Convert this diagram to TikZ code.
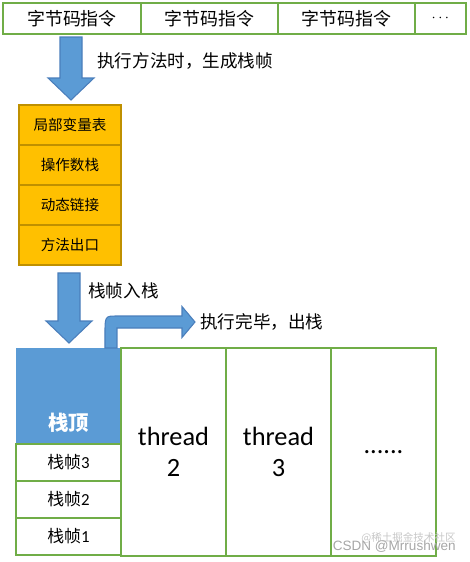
\documentclass[tikz,border=0pt]{standalone}
\usepackage{fontspec}
\setmainfont{Carlito}
\newfontfamily\cjk{Noto Sans CJK SC}
\newfontfamily\wmfont{Liberation Sans}
\usetikzlibrary{calc}
\usetikzlibrary{positioning}

\definecolor{cellgreen}{HTML}{70AD47}
\definecolor{arrowblue}{HTML}{5B9BD5}
\definecolor{arrowedge}{HTML}{4A7EBB}
\definecolor{slotorange}{HTML}{FFC000}
\definecolor{slotedge}{HTML}{BF9000}

\tikzset{
  codecell/.style={draw=cellgreen, line width=1.2pt, inner sep=0pt, outer sep=0pt,
    minimum height=0.62cm, font=\cjk\fontsize{10.2}{12}\selectfont},
  slot/.style={draw=slotedge, fill=slotorange, line width=1.2pt, inner sep=0pt, outer sep=0pt,
    minimum width=2.04cm, minimum height=0.8cm, font=\cjk\fontsize{8.3}{10}\selectfont},
  framecell/.style={draw=cellgreen, line width=1.2pt, inner sep=0pt, outer sep=0pt,
    minimum width=2.1cm, minimum height=0.74cm, font=\fontsize{9.6}{11}\selectfont},
  threadcol/.style={draw=cellgreen, line width=1.2pt, inner sep=0pt, outer sep=0pt,
    minimum width=2.1cm, minimum height=4.16cm, align=center, font=\fontsize{15}{17.6}\selectfont},
  caption/.style={anchor=west, inner sep=0pt, font=\cjk\fontsize{10}{12}\selectfont},
  blockarrow/.style={fill=arrowblue, draw=arrowedge, line width=0.6pt, line join=miter}
}

\newcommand\fatdown[2]{%
  \filldraw[blockarrow] ($(#1)+(-11,0)$) -- ($(#2)+(-11,-22)$) -- ($(#2)+(-23,-22)$) -- (#2)
    -- ($(#2)+(23,-22)$) -- ($(#2)+(11,-22)$) -- ($(#1)+(11,0)$) -- cycle;}

\begin{document}
\begin{tikzpicture}[x=0.02cm, y=-0.02cm]
  \useasboundingbox (0,0) rectangle (470,562);

  \node[codecell, minimum width=2.76cm] (b1) at (72,18.5) {字节码指令};
  \node[codecell, minimum width=2.74cm, right=0pt of b1] (b2) {字节码指令};
  \node[codecell, minimum width=2.74cm, right=0pt of b2] (b3) {字节码指令};
  \node[codecell, minimum width=1.02cm, right=0pt of b3] (b4) {\fontsize{8}{9}\selectfont$\cdots$};

  \node[slot] (l1) at (70,125) {局部变量表};
  \node[slot, below=0pt of l1] (l2) {操作数栈};
  \node[slot, below=0pt of l2] (l3) {动态链接};
  \node[slot, below=0pt of l3] (l4) {方法出口};

  \coordinate (a1s) at ($(b1.south)+(-1,3)$);
  \coordinate (a1e) at ($(a1s |- l1.north)+(0,-5)$);
  \fatdown{a1s}{a1e}
  \node[caption] (gen) at (97,61) {执行方法时，生成栈帧};

  \node[fill=arrowblue, inner sep=0pt, outer sep=0pt, minimum width=2.1cm, minimum height=1.92cm] (stop) at (68.5,396) {};
  \node[font=\cjk\bfseries\fontsize{11.6}{13}\selectfont, text=white, inner sep=0pt] (toptext) at ($(stop.south)+(0,-21)$) {栈顶};
  \node[framecell, below=0pt of stop] (f3) {{\cjk 栈帧}3};
  \node[framecell, below=0pt of f3] (f2) {{\cjk 栈帧}2};
  \node[framecell, below=0pt of f2] (f1) {{\cjk 栈帧}1};

  \node[threadcol] (t2) at (173.5,452) {thread\\2};
  \node[threadcol, right=0pt of t2] (t3) {thread\\3};
  \node[threadcol, right=0pt of t3] (t4) {\raisebox{-2pt}{......}};

  \coordinate (a2s) at ($(l4.south)+(-1,8)$);
  \coordinate (a2e) at ($(a2s |- stop.north)+(0,-5)$);
  \fatdown{a2s}{a2e}
  \node[caption] (push) at (88,291) {栈帧入栈};

  \node[caption] (pop) at (200,322) {执行完毕，出栈};
  \coordinate (bs) at ($(stop.north east)+(-10,0)$);
  \coordinate (bt) at ($(pop.west)+(-5,0)$);
  \filldraw[blockarrow] ($(bs)+(-6,0)$) -- ($(bs |- bt)+(-6,12)$)
    .. controls ($(bs |- bt)+(-6,-6)$) .. ($(bs |- bt)+(6,-6)$)
    -- ($(bt)+(-13,-6)$) -- ($(bt)+(-13,-15.5)$) -- (bt) -- ($(bt)+(-13,15.5)$)
    -- ($(bt)+(-13,6)$) -- ($(bs |- bt)+(6,6)$) -- ($(bs)+(6,0)$) -- cycle;

  \node[anchor=east, inner sep=0pt, text=black!22, font=\cjk\fontsize{6}{7}\selectfont] (wm2) at (456,538) {@稀土掘金技术社区};
  \node[anchor=east, inner sep=0pt, text=black!35, font=\wmfont\fontsize{7.7}{9}\selectfont] (wm1) at (456,547) {CSDN @Mrrushwen};
\end{tikzpicture}
\end{document}
